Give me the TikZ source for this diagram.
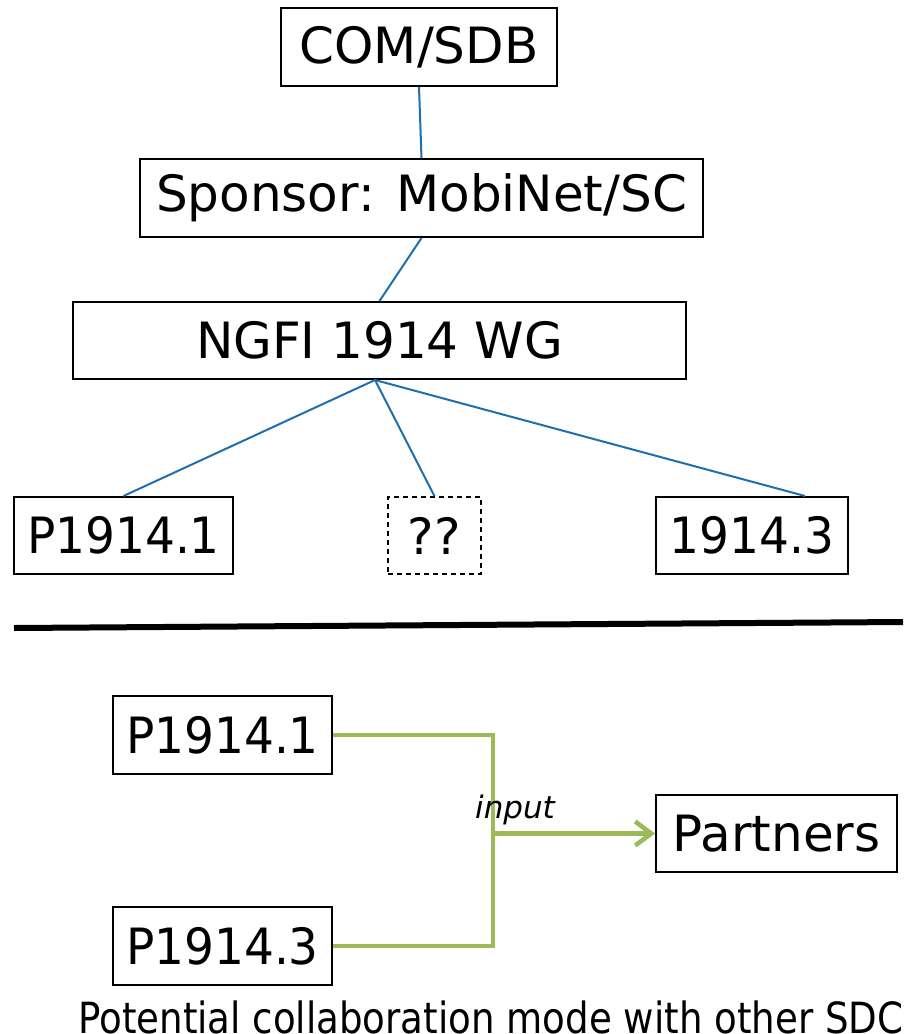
\documentclass[tikz,border=0pt]{standalone}
\usepackage{fontspec}
\setmainfont{DejaVu Sans}
\usetikzlibrary{arrows.meta}
\definecolor{linkblue}{RGB}{31,110,175}
\definecolor{leafgreen}{RGB}{155,187,89}
\begin{document}
\begin{tikzpicture}[x=1pt,y=-1pt,
  box/.style={draw=black,line width=2pt,inner sep=0pt,font=\fontsize{50}{60}\selectfont},
  dbox/.style={box,line width=1.6pt,dash pattern=on 5pt off 4pt},
  link/.style={draw=linkblue,line width=2pt},
  flow/.style={draw=leafgreen,line width=4.5pt},
  arr/.style={flow,-{Straight Barb[length=16pt,width=24pt,line width=4.5pt]}}]
\useasboundingbox (0,0) rectangle (903,1034);
% tree
\node[box,minimum width=276pt,minimum height=78pt] (com) at (419,47) {COM/SDB};
\node[box,minimum width=563pt,minimum height=78pt] (spon) at (421.5,198) {Sponsor: MobiNet/SC};
\node[box,minimum width=613pt,minimum height=77pt] (ngfi) at (379.5,340.5) {NGFI 1914 WG};
\node[box,minimum width=219pt,minimum height=77pt] (t1) at (123.5,535.5) {\scalebox{0.94}[1]{P1914.1}};
\node[dbox,minimum width=93pt,minimum height=77pt] (tq) at (434.5,535.5) {??};
\node[box,minimum width=192pt,minimum height=77pt] (t3) at (752,535.5) {\scalebox{0.94}[1]{1914.3}};
\draw[link] (com.south) -- (spon.north);
\draw[link] (spon.south) -- (ngfi.north);
\coordinate (nb) at (375,380);
\draw[link] (nb) -- (t1.north);
\draw[link] (nb) -- (tq.north);
\draw[link] (nb) -- ([xshift=53pt]t3.north);
% separator
\coordinate (sepL) at (14,628);
\coordinate (sepR) at (903,622);
\draw[line width=6pt] (sepL) -- (sepR);
% collaboration
\node[box,minimum width=219pt,minimum height=78pt] (b1) at (222.5,735) {\scalebox{0.94}[1]{P1914.1}};
\node[box,minimum width=219pt,minimum height=78pt] (b3) at (222.5,946) {\scalebox{0.94}[1]{P1914.3}};
\node[box,minimum width=241pt,minimum height=77pt] (part) at (776.5,833.5) {Partners};
\coordinate (j) at (493,833);
\draw[flow] (b1.east) -- (b1.east -| j) -- (b3.east -| j) -- (b3.east);
\draw[arr] (j |- part.west) -- (part.west);
\node[font=\fontsize{31}{36}\selectfont\itshape] (inp) at (515,810) {input};
\node[anchor=base west,inner sep=0pt,font=\fontsize{43}{50}\selectfont] (cap) at (78,1033) {\scalebox{0.864}[1]{Potential collaboration mode with other SDC}};
\end{tikzpicture}
\end{document}
